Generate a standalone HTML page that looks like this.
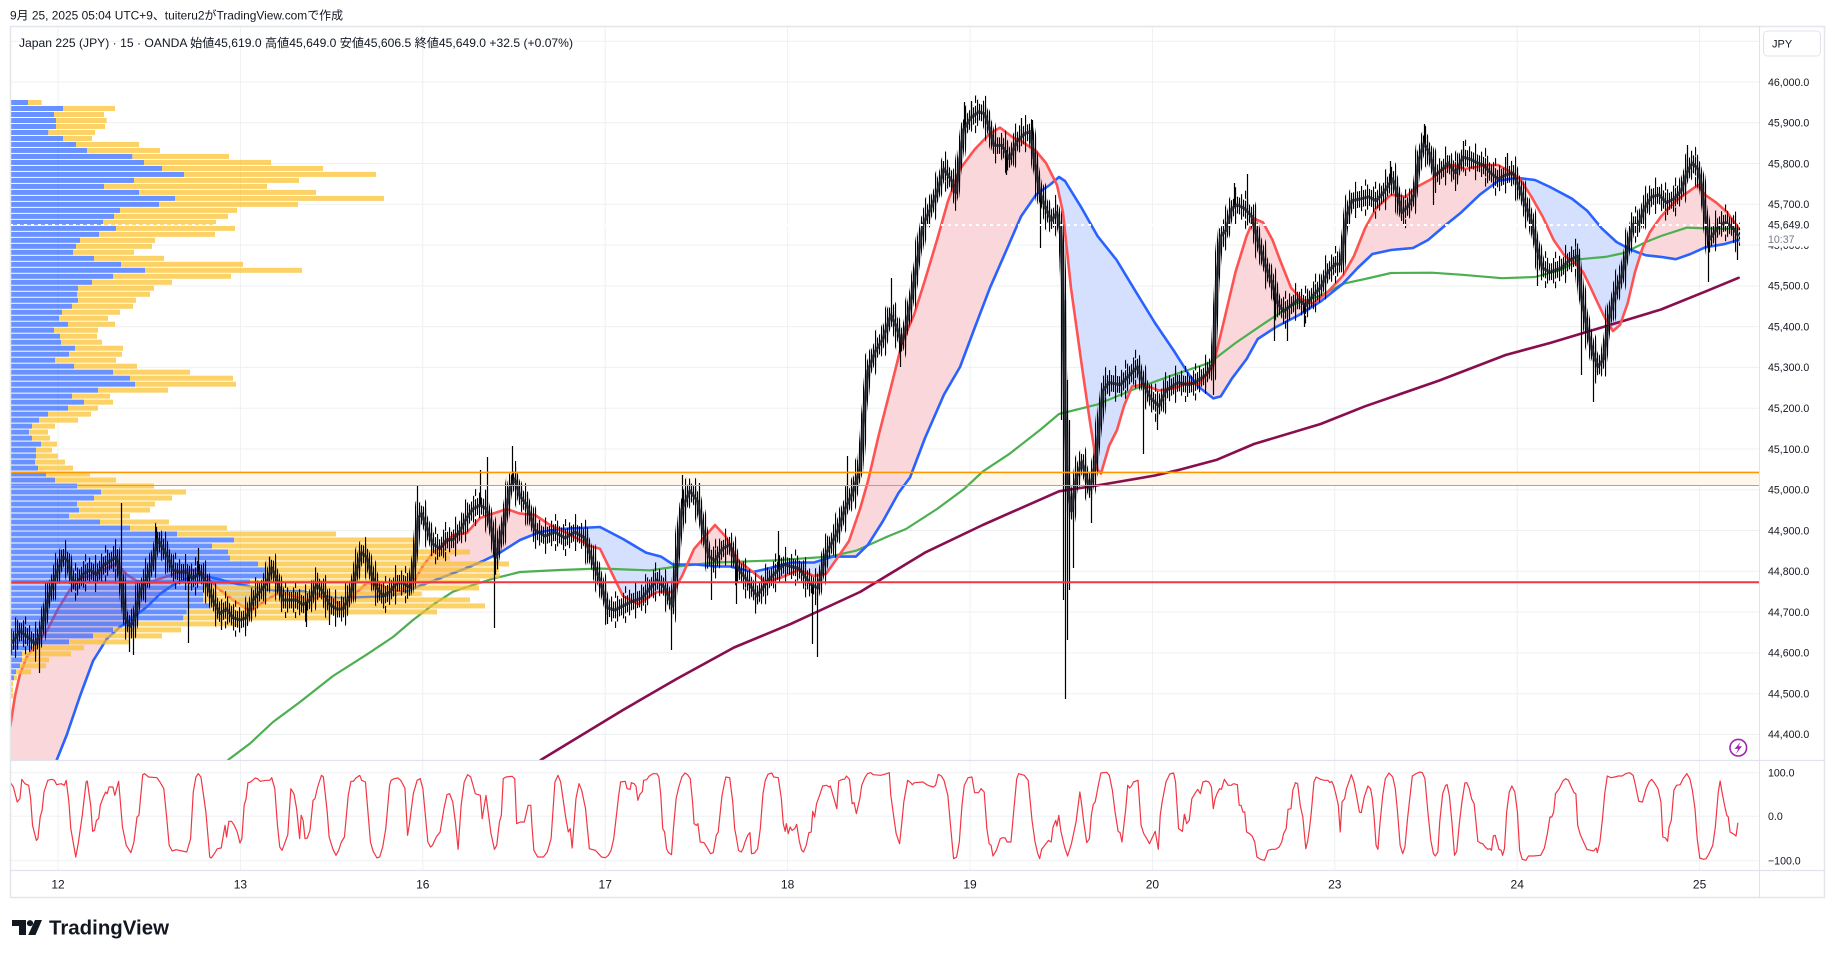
<!DOCTYPE html>
<html><head><meta charset="utf-8">
<style>
html,body{margin:0;padding:0;background:#fff;width:1835px;height:958px;overflow:hidden}
svg{display:block}
text{font-family:"Liberation Sans","Noto Sans CJK JP",sans-serif;fill:#131722}
</style></head>
<body>
<svg width="1835" height="958" viewBox="0 0 1835 958" xmlns="http://www.w3.org/2000/svg" xmlns:xlink="http://www.w3.org/1999/xlink">
<defs>
<clipPath id="pp"><rect x="10" y="27" width="1749" height="733"/></clipPath>
<clipPath id="c600"><rect x="1760" y="246.5" width="62" height="6"/></clipPath>
<clipPath id="o1"><rect x="10" y="761" width="585" height="109"/></clipPath>
<clipPath id="o2"><rect x="595" y="761" width="590" height="109"/></clipPath>
<clipPath id="o3"><rect x="1185" y="761" width="574" height="109"/></clipPath>
<clipPath id="aboveBlue"><polygon points="10,877 56.7,760 66.7,735 80,696 93,661 106.7,639 120,627 133,617.7 146.7,607 160,594 173,585 186.7,578.7 200,575 216.7,578.7 233,583 250,586.5 266.7,589.5 283,591 300,591 316.7,594 333,598 350,598 366.7,597 383,596 400,594 416.7,587 433,581 450,574.4 466.7,568 483,561 500,552.7 520,540 540,532 560,529 580,528 600,527 623,539 646,552.6 661,556.6 673,564.5 696,564.5 715,566.5 730,566.5 753,572 768,568.5 791,562.5 814,562.5 833,556.6 856,556.6 868,544.7 883,521 898.5,493 910,477.5 925,438 944,394.5 960,367 975,327 990,287.7 1005.6,252 1021,216.5 1036,194.8 1049.7,185 1059,177 1065,181 1082,208.6 1097.5,236 1116.6,260 1135.8,291.7 1155,323 1174,351 1189,374.7 1198.5,386.6 1213.3,398.4 1220.7,396.4 1231.8,378.7 1246.6,359 1257.7,339 1276,327 1298.4,315.4 1320.6,301.5 1342.8,283.8 1357.6,268 1372.4,254 1391,250 1413,248 1428,240 1446.4,224.4 1461,212.6 1479.7,194.8 1498,181 1516.7,177.8 1535,180 1550,187 1572,198.7 1587,210.6 1601.8,228.4 1616.5,242 1631.4,250 1646,255.3 1661,256.9 1675.8,259.2 1690.5,254 1705,247.4 1723.8,244.2 1738.6,240 1738.6,0 10,0"/></clipPath>
<clipPath id="aboveRed"><polygon points="10.3,726 15,696 20,674 26.7,657 36.7,644 46.7,631 58,609 70,589.5 80,578.7 93,574.4 106.7,568 116.7,563.5 126.7,574.4 136.7,581 146.7,583 160,578.7 173,574.4 186.7,570 196.7,570 206.7,576.5 216.7,587.4 233,600 250,611 266.7,600 280,591.7 293,596 310,600 323,596 333,600 343,607 353,596 366.7,583 380,585 400,591.7 413,583 423,565.7 433,552.7 443,546 453,535 466.7,533 480,518 493,513.6 506.7,509 520,513.6 535,515 550,525 565,532 580,540 590,546 600,548.7 623,596 638,604 657,592 673,592 682,576 694,549 715,525 726,537 738,560.5 753,572 765,582 780,578 799,570 814,576 826,574 837,558.5 849,541 860,509 868,481 879,434 891,387 902,343 914,315 925,280 937,240 948,201 960,169 975,149 990,133.5 1000,127.6 1013,137.5 1021,141 1036,151 1046,163 1057,185 1063,212.6 1071,288 1082,367 1090,422 1097.5,469.6 1101,473.5 1109,446 1117,430 1124,406 1132,386.5 1143,384.6 1159,390.5 1174,388.5 1189,382.6 1198.5,384.6 1213,366.8 1224.4,319 1235.5,272 1246.6,236 1254,218.5 1263,222.5 1272.5,240 1280,260 1291,287.7 1302,299.6 1313,303.5 1328,291.7 1342.8,275.8 1354,256 1365,228.4 1376,208.6 1391,194.8 1405.7,196.8 1416.8,186.9 1431.6,179 1442.7,169 1453.8,165 1465,169 1476,167 1487,165 1498,165 1509,171 1520,179 1531.5,196.8 1542.6,216.5 1553.7,240 1564.8,256 1576,264 1583,272 1590.7,287.7 1598,303.5 1605.5,319 1613,331 1620,325 1627.6,303.5 1635,272 1642.5,248 1650,232 1661,216.5 1675.8,200.7 1687,192.8 1698,185 1705,194.8 1716.4,202.7 1727.5,212.6 1738.6,228.4 1738.6,0 10.3,0"/></clipPath>
<pattern id="barsA" patternUnits="userSpaceOnUse" x="11" y="0" width="2" height="4"><rect x="0" y="0" width="1.1" height="4" fill="#000"/></pattern>
<pattern id="barsB" patternUnits="userSpaceOnUse" x="11" y="0" width="6" height="4"><rect x="0" y="0" width="1.1" height="4" fill="#000"/></pattern>
<pattern id="barsC" patternUnits="userSpaceOnUse" x="15" y="0" width="10" height="4"><rect x="0" y="0" width="1.1" height="4" fill="#000"/></pattern>
<polyline id="blk" fill="none" points="10.3,643.7 15,639 20,630.7 25,635 30,639 35,643.7 40,635 43,622 48,600 53,583 58,570 63,557 68,561 71.7,578.7 76.7,583 83,574.4 90,570 96.7,574.4 103,565.7 110,561 116.7,557 121.7,583 125,617.7 130,626.4 135,617.7 140,591.7 146.7,578.7 153,561 158,539.7 163,548.4 168,557 173,570 180,572 186.7,572 193,578.7 200,572 206.7,583 213,600 220,613.4 226.7,609 233,617.7 240,620 246.7,617.7 253,600 260,591.7 266.7,583 271.7,567.8 276.7,578.7 283,600 290,600 296.7,600 303,604.7 310,600 316.7,585 323,591.7 330,604.7 336.7,609 343,609 350,596 356.7,570 361.7,552.7 366.7,557 371.7,574.4 376.7,587.4 383,596 390,591.7 396.7,583 403,583 410,587.4 415,557 418.3,518 421.7,513.6 426.7,526.7 433,544 440,548.4 446.7,539.7 453,539.7 460,531 466.7,518 473,509 480,505 486.7,509 493,535 496.7,557 500,539.7 505,518 510,487.6 515,479 520,496 527,505 535,530 545,536 555,532 565,538 575,532 585,538 593,562 600,580 607.7,608 615,610 630.6,602 642,598 657,580 665,588 672.7,606 676.5,564.5 682,509 690,491 697.6,501 703,529 709,556.6 715,560.5 722.5,548.7 730,544.7 738,568.5 747,580 757,596 768.4,580 783.7,564.5 799,568.5 810.5,584 818,588 825.8,554.6 837,533 845,509 852.6,493 860,469.6 864,414 868,370.7 875.5,351 883,339 891,315 896.6,327 902,343 906,327 912,295.6 917.6,260 923,224.4 929,212.6 937,192.8 944,169 952,181 956,192.8 963.6,129.5 971,117.7 979,111.7 984.6,113.7 990,129.5 994,145.4 1002,145.4 1009.5,159 1017,141.4 1025,133.5 1030.5,131.5 1034,157 1040,192.8 1046,208.6 1051.6,220.5 1057,212.6 1061,232 1063,287.7 1065,406 1067.7,485.4 1071.5,511 1076.5,477.5 1082,461.7 1090,489.4 1095.6,461.7 1099.4,426 1103,390.5 1109,382.6 1120.5,384.6 1130,374.7 1137.7,366.8 1143,382.6 1151,398.4 1159,406 1166,390.5 1178,382.6 1189,384.6 1194.8,382.6 1206,374.7 1213.3,362.8 1217,279.8 1220.7,236.3 1226,230.4 1231.8,208.6 1237.3,204.7 1244.7,208.6 1252,216.5 1257.7,240 1265,264 1272.5,283.8 1278,303.5 1283.6,311.4 1291,305.5 1298.4,299.6 1305.8,305.5 1313,295.6 1320.6,287.7 1328,271.9 1335.4,264 1341,264 1346.5,216.5 1352,200.7 1361.3,198.7 1368.7,196.8 1376,200.7 1383.5,192.8 1392.7,179 1398.3,196.8 1402,212.6 1409.4,204.7 1415,192.8 1418.6,161 1424,143.4 1429.7,153.3 1435.3,175 1442.7,169 1448.2,163 1455.6,173 1463,157.2 1470.4,159.2 1477.8,163 1483.4,165 1490.8,173 1498,179 1505.6,175 1513,173 1518.5,185 1524,200.7 1531.5,220.5 1537,248 1542.6,268 1550,272 1561,268 1570,260 1577.7,256 1581.4,295.6 1587,327 1592.5,351 1598,366.8 1603.6,359 1609,319 1614.7,295.6 1622,275.8 1627.6,248 1633,224.4 1638.6,224.4 1644.3,208.6 1651.7,196.8 1659,194.8 1666.5,202.7 1674,198.7 1681.3,190.8 1686.8,173 1692.4,163 1698,169 1701.6,185 1705.3,216.5 1709,240 1714.6,232.3 1720,224.4 1725.7,222.5 1731.2,226.4 1735,230.4 1738.6,236.3"/>
</defs>

<rect x="0" y="0" width="1835" height="958" fill="#fff"/>

<!-- grid -->
<g stroke="#eef0f3" stroke-width="1">
<line x1="10" y1="41.2" x2="1759" y2="41.2"/><line x1="10" y1="82" x2="1759" y2="82"/><line x1="10" y1="122.8" x2="1759" y2="122.8"/><line x1="10" y1="163.5" x2="1759" y2="163.5"/><line x1="10" y1="204.3" x2="1759" y2="204.3"/><line x1="10" y1="245.1" x2="1759" y2="245.1"/><line x1="10" y1="285.9" x2="1759" y2="285.9"/><line x1="10" y1="326.6" x2="1759" y2="326.6"/><line x1="10" y1="367.4" x2="1759" y2="367.4"/><line x1="10" y1="408.2" x2="1759" y2="408.2"/><line x1="10" y1="449" x2="1759" y2="449"/><line x1="10" y1="489.8" x2="1759" y2="489.8"/><line x1="10" y1="530.5" x2="1759" y2="530.5"/><line x1="10" y1="571.3" x2="1759" y2="571.3"/><line x1="10" y1="612.1" x2="1759" y2="612.1"/><line x1="10" y1="652.9" x2="1759" y2="652.9"/><line x1="10" y1="693.7" x2="1759" y2="693.7"/><line x1="10" y1="734.4" x2="1759" y2="734.4"/>
<line x1="10" y1="772.7" x2="1759" y2="772.7"/><line x1="10" y1="816.3" x2="1759" y2="816.3"/><line x1="10" y1="860.7" x2="1759" y2="860.7"/>
<line x1="58" y1="27" x2="58" y2="870"/><line x1="240.4" y1="27" x2="240.4" y2="870"/><line x1="422.8" y1="27" x2="422.8" y2="870"/><line x1="605.2" y1="27" x2="605.2" y2="870"/><line x1="787.6" y1="27" x2="787.6" y2="870"/><line x1="970" y1="27" x2="970" y2="870"/><line x1="1152.4" y1="27" x2="1152.4" y2="870"/><line x1="1334.8" y1="27" x2="1334.8" y2="870"/><line x1="1517.2" y1="27" x2="1517.2" y2="870"/><line x1="1699.6" y1="27" x2="1699.6" y2="870"/>
</g>
<rect x="10" y="472.4" width="1749" height="13.1" fill="#fff6ec"/>

<!-- fills between red and blue -->
<g clip-path="url(#pp)">
<g clip-path="url(#aboveBlue)">
<polygon fill="#fad7da" points="10.3,726 15,696 20,674 26.7,657 36.7,644 46.7,631 58,609 70,589.5 80,578.7 93,574.4 106.7,568 116.7,563.5 126.7,574.4 136.7,581 146.7,583 160,578.7 173,574.4 186.7,570 196.7,570 206.7,576.5 216.7,587.4 233,600 250,611 266.7,600 280,591.7 293,596 310,600 323,596 333,600 343,607 353,596 366.7,583 380,585 400,591.7 413,583 423,565.7 433,552.7 443,546 453,535 466.7,533 480,518 493,513.6 506.7,509 520,513.6 535,515 550,525 565,532 580,540 590,546 600,548.7 623,596 638,604 657,592 673,592 682,576 694,549 715,525 726,537 738,560.5 753,572 765,582 780,578 799,570 814,576 826,574 837,558.5 849,541 860,509 868,481 879,434 891,387 902,343 914,315 925,280 937,240 948,201 960,169 975,149 990,133.5 1000,127.6 1013,137.5 1021,141 1036,151 1046,163 1057,185 1063,212.6 1071,288 1082,367 1090,422 1097.5,469.6 1101,473.5 1109,446 1117,430 1124,406 1132,386.5 1143,384.6 1159,390.5 1174,388.5 1189,382.6 1198.5,384.6 1213,366.8 1224.4,319 1235.5,272 1246.6,236 1254,218.5 1263,222.5 1272.5,240 1280,260 1291,287.7 1302,299.6 1313,303.5 1328,291.7 1342.8,275.8 1354,256 1365,228.4 1376,208.6 1391,194.8 1405.7,196.8 1416.8,186.9 1431.6,179 1442.7,169 1453.8,165 1465,169 1476,167 1487,165 1498,165 1509,171 1520,179 1531.5,196.8 1542.6,216.5 1553.7,240 1564.8,256 1576,264 1583,272 1590.7,287.7 1598,303.5 1605.5,319 1613,331 1620,325 1627.6,303.5 1635,272 1642.5,248 1650,232 1661,216.5 1675.8,200.7 1687,192.8 1698,185 1705,194.8 1716.4,202.7 1727.5,212.6 1738.6,228.4 1738.6,900 10.3,900"/>
</g>
<g clip-path="url(#aboveRed)">
<polygon fill="#d4e0fe" points="10,877 56.7,760 66.7,735 80,696 93,661 106.7,639 120,627 133,617.7 146.7,607 160,594 173,585 186.7,578.7 200,575 216.7,578.7 233,583 250,586.5 266.7,589.5 283,591 300,591 316.7,594 333,598 350,598 366.7,597 383,596 400,594 416.7,587 433,581 450,574.4 466.7,568 483,561 500,552.7 520,540 540,532 560,529 580,528 600,527 623,539 646,552.6 661,556.6 673,564.5 696,564.5 715,566.5 730,566.5 753,572 768,568.5 791,562.5 814,562.5 833,556.6 856,556.6 868,544.7 883,521 898.5,493 910,477.5 925,438 944,394.5 960,367 975,327 990,287.7 1005.6,252 1021,216.5 1036,194.8 1049.7,185 1059,177 1065,181 1082,208.6 1097.5,236 1116.6,260 1135.8,291.7 1155,323 1174,351 1189,374.7 1198.5,386.6 1213.3,398.4 1220.7,396.4 1231.8,378.7 1246.6,359 1257.7,339 1276,327 1298.4,315.4 1320.6,301.5 1342.8,283.8 1357.6,268 1372.4,254 1391,250 1413,248 1428,240 1446.4,224.4 1461,212.6 1479.7,194.8 1498,181 1516.7,177.8 1535,180 1550,187 1572,198.7 1587,210.6 1601.8,228.4 1616.5,242 1631.4,250 1646,255.3 1661,256.9 1675.8,259.2 1690.5,254 1705,247.4 1723.8,244.2 1738.6,240 1738.6,900 10,900"/>
</g>

<!-- moving averages -->
<g fill="none" stroke-linejoin="round" stroke-linecap="round">
<polyline stroke="#880e4f" stroke-width="2.6" points="540.7,760 623,710 676.5,679 734,647.5 791,623.8 860,592 925,552.6 982.7,525 1059,491.3 1097.5,485.4 1155,475.5 1180,469.6 1217,459.7 1254,444 1320.6,424 1365,406.3 1439,380.6 1505.6,355 1550,343 1609,325.3 1661,309.5 1705,291.7 1738.6,277.8"/>
<polyline stroke="#4caf50" stroke-width="2.2" points="228,760 250,743.5 273,722 300,702 333,676 366.7,654.6 393,637 413,620 433,604.7 453,591.7 473,585 493,578.7 520,572 560,570 600,568.5 650,570.4 676.5,566.5 715,562.5 772,560.5 829.6,556.6 856,550.7 887,536.8 906,529 937,509 963.6,489.4 982.7,471.6 1009.5,453.8 1040,430 1059,414 1097.5,404.4 1135.8,388.5 1174,374.7 1209.6,362.8 1235.5,343 1261.4,325.3 1291,305.5 1320.6,295.6 1342.8,283.8 1365,279 1391,273 1431.6,272.7 1461,274.7 1502,278.2 1535,277 1561,270 1579.6,259.2 1605.5,256.9 1624,253 1646,242 1661,236 1687,227.6 1705,228.4 1738.6,229"/>
<polyline stroke="#2962ff" stroke-width="2.6" points="10,877 56.7,760 66.7,735 80,696 93,661 106.7,639 120,627 133,617.7 146.7,607 160,594 173,585 186.7,578.7 200,575 216.7,578.7 233,583 250,586.5 266.7,589.5 283,591 300,591 316.7,594 333,598 350,598 366.7,597 383,596 400,594 416.7,587 433,581 450,574.4 466.7,568 483,561 500,552.7 520,540 540,532 560,529 580,528 600,527 623,539 646,552.6 661,556.6 673,564.5 696,564.5 715,566.5 730,566.5 753,572 768,568.5 791,562.5 814,562.5 833,556.6 856,556.6 868,544.7 883,521 898.5,493 910,477.5 925,438 944,394.5 960,367 975,327 990,287.7 1005.6,252 1021,216.5 1036,194.8 1049.7,185 1059,177 1065,181 1082,208.6 1097.5,236 1116.6,260 1135.8,291.7 1155,323 1174,351 1189,374.7 1198.5,386.6 1213.3,398.4 1220.7,396.4 1231.8,378.7 1246.6,359 1257.7,339 1276,327 1298.4,315.4 1320.6,301.5 1342.8,283.8 1357.6,268 1372.4,254 1391,250 1413,248 1428,240 1446.4,224.4 1461,212.6 1479.7,194.8 1498,181 1516.7,177.8 1535,180 1550,187 1572,198.7 1587,210.6 1601.8,228.4 1616.5,242 1631.4,250 1646,255.3 1661,256.9 1675.8,259.2 1690.5,254 1705,247.4 1723.8,244.2 1738.6,240"/>
<polyline stroke="#ff5252" stroke-width="2.6" points="10.3,726 15,696 20,674 26.7,657 36.7,644 46.7,631 58,609 70,589.5 80,578.7 93,574.4 106.7,568 116.7,563.5 126.7,574.4 136.7,581 146.7,583 160,578.7 173,574.4 186.7,570 196.7,570 206.7,576.5 216.7,587.4 233,600 250,611 266.7,600 280,591.7 293,596 310,600 323,596 333,600 343,607 353,596 366.7,583 380,585 400,591.7 413,583 423,565.7 433,552.7 443,546 453,535 466.7,533 480,518 493,513.6 506.7,509 520,513.6 535,515 550,525 565,532 580,540 590,546 600,548.7 623,596 638,604 657,592 673,592 682,576 694,549 715,525 726,537 738,560.5 753,572 765,582 780,578 799,570 814,576 826,574 837,558.5 849,541 860,509 868,481 879,434 891,387 902,343 914,315 925,280 937,240 948,201 960,169 975,149 990,133.5 1000,127.6 1013,137.5 1021,141 1036,151 1046,163 1057,185 1063,212.6 1071,288 1082,367 1090,422 1097.5,469.6 1101,473.5 1109,446 1117,430 1124,406 1132,386.5 1143,384.6 1159,390.5 1174,388.5 1189,382.6 1198.5,384.6 1213,366.8 1224.4,319 1235.5,272 1246.6,236 1254,218.5 1263,222.5 1272.5,240 1280,260 1291,287.7 1302,299.6 1313,303.5 1328,291.7 1342.8,275.8 1354,256 1365,228.4 1376,208.6 1391,194.8 1405.7,196.8 1416.8,186.9 1431.6,179 1442.7,169 1453.8,165 1465,169 1476,167 1487,165 1498,165 1509,171 1520,179 1531.5,196.8 1542.6,216.5 1553.7,240 1564.8,256 1576,264 1583,272 1590.7,287.7 1598,303.5 1605.5,319 1613,331 1620,325 1627.6,303.5 1635,272 1642.5,248 1650,232 1661,216.5 1675.8,200.7 1687,192.8 1698,185 1705,194.8 1716.4,202.7 1727.5,212.6 1738.6,228.4"/>
</g>
</g>

<!-- volume profile -->
<g transform="translate(0,100) scale(0.33333,5.993)">
<g fill="rgba(41,98,255,0.7)">
<rect x="31.5" y="0" width="52.5" height="0.834"/><rect x="31.5" y="1" width="157.5" height="0.834"/><rect x="31.5" y="2" width="130.5" height="0.834"/><rect x="31.5" y="3" width="136.5" height="0.834"/><rect x="31.5" y="4" width="136.5" height="0.834"/><rect x="31.5" y="5" width="113.5" height="0.834"/><rect x="31.5" y="6" width="157.5" height="0.834"/><rect x="31.5" y="7" width="196.5" height="0.834"/><rect x="31.5" y="8" width="229.5" height="0.834"/><rect x="31.5" y="9" width="365.5" height="0.834"/>
<rect x="31.5" y="10" width="400.5" height="0.834"/><rect x="31.5" y="11" width="454.5" height="0.834"/><rect x="31.5" y="12" width="520.5" height="0.834"/><rect x="31.5" y="13" width="370.5" height="0.834"/><rect x="31.5" y="14" width="280.5" height="0.834"/><rect x="31.5" y="15" width="385.5" height="0.834"/><rect x="31.5" y="16" width="493.5" height="0.834"/><rect x="31.5" y="17" width="445.5" height="0.834"/><rect x="31.5" y="18" width="328.5" height="0.834"/><rect x="31.5" y="19" width="310.5" height="0.834"/>
<rect x="31.5" y="20" width="277.5" height="0.834"/><rect x="31.5" y="21" width="316.5" height="0.834"/><rect x="31.5" y="22" width="265.5" height="0.834"/><rect x="31.5" y="23" width="208.5" height="0.834"/><rect x="31.5" y="24" width="196.5" height="0.834"/><rect x="31.5" y="25" width="187.5" height="0.834"/><rect x="31.5" y="26" width="250.5" height="0.834"/><rect x="31.5" y="27" width="331.5" height="0.834"/><rect x="31.5" y="28" width="403.5" height="0.834"/><rect x="31.5" y="29" width="307.5" height="0.834"/>
<rect x="31.5" y="30" width="244.5" height="0.834"/><rect x="31.5" y="31" width="202.5" height="0.834"/><rect x="31.5" y="32" width="199.5" height="0.834"/><rect x="31.5" y="33" width="202.5" height="0.834"/><rect x="31.5" y="34" width="184.5" height="0.834"/><rect x="31.5" y="35" width="154.5" height="0.834"/><rect x="31.5" y="36" width="145.5" height="0.834"/><rect x="31.5" y="37" width="172.5" height="0.834"/><rect x="31.5" y="38" width="130.5" height="0.834"/><rect x="31.5" y="39" width="148.5" height="0.834"/>
<rect x="31.5" y="40" width="151.5" height="0.834"/><rect x="31.5" y="41" width="193.5" height="0.834"/><rect x="31.5" y="42" width="175.5" height="0.834"/><rect x="31.5" y="43" width="133.5" height="0.834"/><rect x="31.5" y="44" width="190.5" height="0.834"/><rect x="31.5" y="45" width="307.5" height="0.834"/><rect x="31.5" y="46" width="358.5" height="0.834"/><rect x="31.5" y="47" width="373.5" height="0.834"/><rect x="31.5" y="48" width="262.5" height="0.834"/><rect x="31.5" y="49" width="184.5" height="0.834"/>
<rect x="31.5" y="50" width="220.5" height="0.834"/><rect x="31.5" y="51" width="172.5" height="0.834"/><rect x="31.5" y="52" width="112.5" height="0.834"/><rect x="31.5" y="53" width="85.5" height="0.834"/><rect x="31.5" y="54" width="64.5" height="0.834"/><rect x="31.5" y="55" width="55.5" height="0.834"/><rect x="31.5" y="56" width="64.5" height="0.834"/><rect x="31.5" y="57" width="91.5" height="0.834"/><rect x="31.5" y="58" width="76.5" height="0.834"/><rect x="31.5" y="59" width="76.5" height="0.834"/>
<rect x="31.5" y="60" width="73.5" height="0.834"/><rect x="31.5" y="61" width="82.5" height="0.834"/><rect x="31.5" y="62" width="106.5" height="0.834"/><rect x="31.5" y="63" width="133.5" height="0.834"/><rect x="31.5" y="64" width="199.5" height="0.834"/><rect x="31.5" y="65" width="271.5" height="0.834"/><rect x="31.5" y="66" width="250.5" height="0.834"/><rect x="31.5" y="67" width="199.5" height="0.834"/><rect x="31.5" y="68" width="205.5" height="0.834"/><rect x="31.5" y="69" width="175.5" height="0.834"/>
<rect x="31.5" y="70" width="268.5" height="0.834"/><rect x="31.5" y="71" width="358.5" height="0.834"/><rect x="31.5" y="72" width="499.5" height="0.834"/><rect x="31.5" y="73" width="670.5" height="0.834"/><rect x="31.5" y="74" width="604.5" height="0.834"/><rect x="31.5" y="75" width="652.5" height="0.834"/><rect x="31.5" y="76" width="658.5" height="0.834"/><rect x="31.5" y="77" width="742.5" height="0.834"/><rect x="31.5" y="78" width="766.5" height="0.834"/><rect x="31.5" y="79" width="766.5" height="0.834"/>
<rect x="31.5" y="80" width="718.5" height="0.834"/><rect x="31.5" y="81" width="578.5" height="0.834"/><rect x="31.5" y="82" width="578.5" height="0.834"/><rect x="31.5" y="83" width="578.5" height="0.834"/><rect x="31.5" y="84" width="598.5" height="0.834"/><rect x="31.5" y="85" width="528.5" height="0.834"/><rect x="31.5" y="86" width="518.5" height="0.834"/><rect x="31.5" y="87" width="378.5" height="0.834"/><rect x="31.5" y="88" width="307.5" height="0.834"/><rect x="31.5" y="89" width="247.5" height="0.834"/>
<rect x="31.5" y="90" width="175.5" height="0.834"/><rect x="31.5" y="91" width="63.5" height="0.834"/><rect x="31.5" y="92" width="34.5" height="0.834"/><rect x="31.5" y="93" width="34.5" height="0.834"/><rect x="31.5" y="94" width="28.5" height="0.834"/><rect x="31.5" y="95" width="16.5" height="0.834"/><rect x="31.5" y="96" width="10.5" height="0.834"/><rect x="31.5" y="97" width="1.5" height="0.834"/><rect x="31.5" y="98" width="1.5" height="0.834"/><rect x="31.5" y="99" width="1.5" height="0.834"/>
</g>
<g fill="rgba(251,192,45,0.72)">
<rect x="84" y="0" width="41" height="0.834"/><rect x="189" y="1" width="156" height="0.834"/><rect x="162" y="2" width="150" height="0.834"/><rect x="168" y="3" width="152" height="0.834"/><rect x="168" y="4" width="147" height="0.834"/><rect x="145" y="5" width="140" height="0.834"/><rect x="189" y="6" width="87" height="0.834"/><rect x="228" y="7" width="189" height="0.834"/><rect x="261" y="8" width="219" height="0.834"/><rect x="397" y="9" width="290" height="0.834"/>
<rect x="432" y="10" width="381" height="0.834"/><rect x="486" y="11" width="483" height="0.834"/><rect x="552" y="12" width="576" height="0.834"/><rect x="402" y="13" width="495" height="0.834"/><rect x="312" y="14" width="489" height="0.834"/><rect x="417" y="15" width="531" height="0.834"/><rect x="525" y="16" width="627" height="0.834"/><rect x="477" y="17" width="417" height="0.834"/><rect x="360" y="18" width="351" height="0.834"/><rect x="342" y="19" width="342" height="0.834"/>
<rect x="309" y="20" width="339" height="0.834"/><rect x="348" y="21" width="357" height="0.834"/><rect x="297" y="22" width="348" height="0.834"/><rect x="240" y="23" width="225" height="0.834"/><rect x="228" y="24" width="228" height="0.834"/><rect x="219" y="25" width="183" height="0.834"/><rect x="282" y="26" width="210" height="0.834"/><rect x="363" y="27" width="366" height="0.834"/><rect x="435" y="28" width="471" height="0.834"/><rect x="339" y="29" width="354" height="0.834"/>
<rect x="276" y="30" width="240" height="0.834"/><rect x="234" y="31" width="228" height="0.834"/><rect x="231" y="32" width="219" height="0.834"/><rect x="234" y="33" width="174" height="0.834"/><rect x="216" y="34" width="183" height="0.834"/><rect x="186" y="35" width="174" height="0.834"/><rect x="177" y="36" width="147" height="0.834"/><rect x="204" y="37" width="141" height="0.834"/><rect x="162" y="38" width="132" height="0.834"/><rect x="180" y="39" width="111" height="0.834"/>
<rect x="183" y="40" width="123" height="0.834"/><rect x="225" y="41" width="144" height="0.834"/><rect x="207" y="42" width="159" height="0.834"/><rect x="165" y="43" width="183" height="0.834"/><rect x="222" y="44" width="189" height="0.834"/><rect x="339" y="45" width="231" height="0.834"/><rect x="390" y="46" width="309" height="0.834"/><rect x="405" y="47" width="303" height="0.834"/><rect x="294" y="48" width="210" height="0.834"/><rect x="216" y="49" width="114" height="0.834"/>
<rect x="252" y="50" width="87" height="0.834"/><rect x="204" y="51" width="90" height="0.834"/><rect x="144" y="52" width="129" height="0.834"/><rect x="117" y="53" width="117" height="0.834"/><rect x="96" y="54" width="69" height="0.834"/><rect x="87" y="55" width="57" height="0.834"/><rect x="96" y="56" width="54" height="0.834"/><rect x="123" y="57" width="48" height="0.834"/><rect x="108" y="58" width="48" height="0.834"/><rect x="108" y="59" width="66" height="0.834"/>
<rect x="105" y="60" width="90" height="0.834"/><rect x="114" y="61" width="105" height="0.834"/><rect x="138" y="62" width="132" height="0.834"/><rect x="165" y="63" width="183" height="0.834"/><rect x="231" y="64" width="231" height="0.834"/><rect x="303" y="65" width="255" height="0.834"/><rect x="282" y="66" width="234" height="0.834"/><rect x="231" y="67" width="234" height="0.834"/><rect x="237" y="68" width="213" height="0.834"/><rect x="207" y="69" width="183" height="0.834"/>
<rect x="300" y="70" width="207" height="0.834"/><rect x="390" y="71" width="291" height="0.834"/><rect x="531" y="72" width="477" height="0.834"/><rect x="702" y="73" width="548" height="0.834"/><rect x="636" y="74" width="614" height="0.834"/><rect x="684" y="75" width="726" height="0.834"/><rect x="690" y="76" width="660" height="0.834"/><rect x="774" y="77" width="753" height="0.834"/><rect x="798" y="78" width="699" height="0.834"/><rect x="798" y="79" width="702" height="0.834"/>
<rect x="750" y="80" width="690" height="0.834"/><rect x="610" y="81" width="827" height="0.834"/><rect x="610" y="82" width="655" height="0.834"/><rect x="610" y="83" width="800" height="0.834"/><rect x="630" y="84" width="825" height="0.834"/><rect x="560" y="85" width="751" height="0.834"/><rect x="550" y="86" width="440" height="0.834"/><rect x="410" y="87" width="310" height="0.834"/><rect x="339" y="88" width="204" height="0.834"/><rect x="279" y="89" width="207" height="0.834"/>
<rect x="207" y="90" width="183" height="0.834"/><rect x="95" y="91" width="157" height="0.834"/><rect x="66" y="92" width="147" height="0.834"/><rect x="66" y="93" width="81" height="0.834"/><rect x="60" y="94" width="78" height="0.834"/><rect x="48" y="95" width="45" height="0.834"/><rect x="42" y="96" width="9" height="0.834"/><rect x="33" y="97" width="6" height="0.834"/><rect x="33" y="98" width="6" height="0.834"/><rect x="33" y="99" width="6" height="0.834"/>
</g>
</g>

<!-- candles: vertically stacked patterned strokes -->
<g clip-path="url(#pp)" fill="none" stroke-linejoin="round" stroke-linecap="butt">
<use xlink:href="#blk" href="#blk" transform="translate(0,-15)" stroke="url(#barsC)" stroke-width="6"/>
<use xlink:href="#blk" href="#blk" transform="translate(0,15)" stroke="url(#barsC)" stroke-width="6"/>
<use xlink:href="#blk" href="#blk" transform="translate(0,-10)" stroke="url(#barsB)" stroke-width="5"/>
<use xlink:href="#blk" href="#blk" transform="translate(0,10)" stroke="url(#barsB)" stroke-width="5"/>
<use xlink:href="#blk" href="#blk" transform="translate(0,-5.5)" stroke="url(#barsA)" stroke-width="5"/>
<use xlink:href="#blk" href="#blk" transform="translate(0,-1)" stroke="url(#barsA)" stroke-width="5"/>
<use xlink:href="#blk" href="#blk" transform="translate(0,3.5)" stroke="url(#barsA)" stroke-width="5"/>
<use xlink:href="#blk" href="#blk" transform="translate(0,7)" stroke="url(#barsA)" stroke-width="3"/>
<path stroke="#000" stroke-width="1.2" d="M39.5,636V673M121.5,503V580M129.5,625V652M133.5,620V655M156.5,527V548M188.5,574V643M198.5,548V575M221.5,612V630M269.5,557V575M306.5,602V627M329.5,602V625M359.5,546V561M417.5,486V530M480.5,470V505M487.5,457V510M494.5,540V628M512.5,446V484M607.5,607V624M671.5,602V650M682.5,475V509M699.5,483V505M711.5,558V600M736.5,562V604M778.5,531V570M812.5,585V644M817.5,588V657M847.5,456V503M891.5,278V315M900.5,337V367M964.5,102V129M971.5,101V118M1006.5,150V175M1021.5,118V137M1032.5,120V140M1040.5,193V248M1061.5,225V420M1063.5,240V600M1065.5,300V699M1067.5,380V640M1069.5,420V590M1073.5,500V568M1091.5,485V523M1143.5,383V454M1157.5,404V430M1213.5,365V395M1234.5,183V207M1247.5,174V210M1274.5,288V341M1287.5,308V341M1304.5,303V327M1390.5,161V183M1424.5,124V144M1433.5,168V205M1463.5,141V157M1507.5,153V175M1537.5,248V286M1581.5,290V375M1593.5,352V402M1687.5,145V172M1708.5,235V282M1737.5,234V260"/>
<use xlink:href="#blk" href="#blk" stroke="#1e222d" stroke-opacity="0.8" stroke-width="3"/>
</g>

<line x1="10" y1="472.4" x2="1759" y2="472.4" stroke="#ff9800" stroke-width="1.6"/>
<line x1="10" y1="485.5" x2="1759" y2="485.5" stroke="#ff9800" stroke-width="1"/>
<line x1="10" y1="582.3" x2="1759" y2="582.3" stroke="#f23645" stroke-width="2"/>
<line x1="10" y1="225" x2="1759" y2="225" stroke="#fff" stroke-width="2" stroke-dasharray="3,4"/>

<!-- oscillator -->
<g fill="none" stroke="#f23645" stroke-width="1.2" stroke-linejoin="round">
<g clip-path="url(#o1)"><g transform="translate(0,762) scale(0.3827,0.33333)"><polyline vector-effect="non-scaling-stroke" points="26,60,35,75,45,120,52,110,57,52,65,65,75,70,80,110,85,190,95,235,99,230,105,165,110,145,115,90,125,55,135,52,142,55,148,68,160,65,168,70,173,55,180,120,185,200,198,285,205,240,215,160,225,60,228,57,237,130,242,208,247,205,252,175,258,170,262,130,270,105,276,90,280,95,285,75,295,75,300,100,310,58,320,195,330,250,342,272,350,240,358,165,363,160,373,38,378,35,388,45,410,47,418,60,428,80,435,160,442,250,450,267,460,263,488,270,498,230,505,90,512,45,518,35,525,45,538,150,548,285,552,288,560,275,568,260,578,258,588,190,592,225,598,178,605,178,612,190,620,210,627,243,632,230,638,130,643,110,648,62,655,60,660,55,667,48,673,50,680,58,695,55,705,55,710,47,718,80,725,190,731,255,737,265,742,250,752,218,760,80,768,95,775,140,783,230,787,160,792,175,797,230,803,228,810,205,818,115,823,110,830,75,840,40,845,45,855,150,860,225,870,262,878,280,885,265,892,240,900,225,910,100,917,58,923,58,930,48,940,40,945,55,955,60,960,130,968,240,975,268,985,288,992,285,1000,255,1008,200,1018,70,1022,55,1030,50,1040,48,1047,55,1058,78,1065,220,1070,185,1080,95,1090,55,1098,50,1105,80,1118,240,1125,255,1130,250,1140,225,1150,210,1160,140,1168,98,1175,95,1183,120,1190,180,1197,262,1205,130,1213,60,1222,38,1230,45,1242,95,1250,98,1255,100,1260,170,1270,100,1275,145,1283,215,1292,262,1298,250,1305,180,1310,160,1315,50,1322,45,1338,43,1345,50,1350,185,1360,180,1370,180,1380,130,1387,130,1390,190,1395,265,1405,285,1420,285,1430,270,1440,230,1450,60,1458,40,1465,60,1478,165,1485,210,1490,200,1495,258,1505,110,1513,65,1520,85,1530,140,1540,260,1555,265,1568,280"/></g></g>
<g clip-path="url(#o2)"><g transform="translate(590,762) scale(0.3827,0.33333)"><polyline vector-effect="non-scaling-stroke" points="0,262,12,263,20,272,30,285,40,287,48,280,55,265,62,230,70,150,75,100,80,60,92,58,97,80,105,82,108,62,115,65,120,72,125,115,130,98,137,88,140,55,148,53,155,42,165,35,175,35,180,45,185,100,190,200,195,210,200,260,205,272,213,278,218,200,225,110,232,75,240,45,248,33,255,38,262,50,268,120,272,185,278,190,282,185,288,240,298,242,305,255,315,275,322,272,330,220,335,210,345,100,352,60,355,45,365,47,373,120,378,200,383,230,388,265,395,270,400,260,405,240,412,220,418,212,422,275,430,273,438,260,445,200,452,95,458,55,465,37,475,33,480,45,492,47,500,110,505,185,510,208,513,185,518,215,523,195,528,205,535,200,540,187,547,238,553,265,558,270,565,250,572,212,578,210,582,148,587,165,592,125,600,100,608,72,618,70,625,75,628,72,635,100,645,140,650,57,660,52,665,52,670,42,678,52,685,125,690,122,696,155,705,110,710,70,718,48,725,35,733,32,740,38,760,40,775,35,782,32,786,100,795,175,800,215,809,245,815,180,820,120,830,55,838,62,842,68,848,62,870,60,880,68,888,72,897,75,903,70,910,37,918,42,925,55,935,100,942,190,950,290,958,285,965,240,972,130,978,70,988,47,998,45,1005,92,1015,92,1022,80,1030,90,1037,200,1043,245,1048,250,1053,282,1062,265,1072,230,1078,227,1085,228,1090,240,1100,240,1107,150,1115,50,1120,35,1135,40,1145,55,1155,175,1163,240,1170,275,1175,290,1180,262,1188,250,1198,235,1205,240,1210,195,1217,175,1220,192,1225,160,1230,205,1240,255,1248,282,1258,245,1270,180,1280,90,1285,130,1290,180,1298,242,1305,230,1310,160,1315,127,1320,120,1330,60,1335,33,1350,31,1357,40,1365,85,1372,150,1380,208,1385,212,1390,240,1400,140,1405,70,1410,78,1415,72,1420,60,1432,55,1440,190,1447,215,1455,230,1462,245,1470,225,1477,208,1485,262,1490,160,1495,120,1505,60,1515,36,1525,33,1530,60,1538,200,1548,208,1553,157,1558,185,1565,140"/></g></g>
<g clip-path="url(#o3)"><g transform="translate(1180,762) scale(0.36996,0.33333)"><polyline vector-effect="non-scaling-stroke" points="0,200,8,205,12,155,18,185,25,175,32,110,40,95,48,82,55,95,62,60,70,57,78,60,85,75,90,140,95,110,100,95,107,80,112,82,120,52,130,70,138,70,145,65,155,68,160,130,165,130,170,150,175,150,180,210,188,215,195,222,202,240,208,285,218,292,228,295,232,285,238,265,248,262,258,262,268,255,275,240,280,215,287,200,292,142,300,140,305,85,312,62,318,65,325,130,332,165,340,260,345,238,350,200,355,150,362,60,368,45,380,52,390,55,400,55,405,62,410,58,415,70,422,100,428,130,433,210,438,120,445,110,450,80,455,65,463,38,470,60,477,100,485,150,490,152,498,105,508,72,515,80,520,110,525,170,530,250,535,262,540,190,548,100,555,50,565,33,575,45,582,80,588,150,595,250,602,275,608,255,615,170,622,100,628,42,638,35,648,30,655,32,662,50,670,150,678,235,685,275,690,282,697,270,702,180,710,95,718,70,722,68,728,100,735,180,742,280,748,268,755,185,762,120,770,63,775,62,782,80,788,110,795,125,800,180,805,238,812,243,818,245,825,255,832,262,838,260,842,265,847,222,852,220,858,245,862,262,868,265,872,280,877,260,883,150,890,90,897,72,905,90,912,150,918,265,925,292,935,295,942,282,955,282,975,280,985,258,993,215,1000,165,1005,165,1010,150,1015,95,1025,80,1035,57,1042,50,1050,55,1058,75,1065,92,1070,95,1075,190,1082,218,1090,238,1100,262,1110,265,1118,267,1125,258,1128,272,1135,240,1142,170,1148,95,1155,42,1165,47,1175,45,1185,42,1195,42,1205,35,1215,32,1225,40,1232,75,1240,118,1250,120,1260,80,1268,60,1275,52,1282,62,1292,80,1300,120,1305,225,1312,228,1318,238,1322,195,1328,175,1335,85,1342,70,1352,68,1360,50,1370,35,1378,50,1385,85,1392,140,1398,230,1405,288,1415,292,1422,290,1430,275,1440,250,1447,195,1455,90,1460,57,1465,90,1472,130,1478,160,1482,165,1487,210,1495,215,1503,222,1508,182"/></g></g>
</g>

<!-- frame & separators -->
<rect x="10.5" y="26.5" width="1814" height="871" fill="none" stroke="#e3e6ea" stroke-width="1.5"/>
<line x1="1759.5" y1="26" x2="1759.5" y2="898" stroke="#e0e3eb" stroke-width="1"/>
<line x1="10" y1="760.5" x2="1825" y2="760.5" stroke="#e0e3eb" stroke-width="1.2"/>
<line x1="10" y1="870.5" x2="1825" y2="870.5" stroke="#e0e3eb" stroke-width="1.2"/>

<!-- header -->
<text x="10" y="19.5" font-size="12" textLength="333" lengthAdjust="spacingAndGlyphs">9月 25, 2025 05:04 UTC+9、tuiteru2がTradingView.comで作成</text>
<text x="19" y="47" font-size="12" textLength="554" lengthAdjust="spacingAndGlyphs">Japan 225 (JPY) · 15 · OANDA  始値45,619.0  高値45,649.0  安値45,606.5  終値45,649.0  +32.5 (+0.07%)</text>

<!-- JPY box -->
<rect x="1763.5" y="31" width="57" height="25" rx="4" fill="#fff" stroke="#e0e3eb"/>
<text x="1772" y="47.5" font-size="11">JPY</text>

<!-- price axis -->
<g font-size="10.6">
<text x="1768" y="85.8">46,000.0</text>
<text x="1768" y="126.6">45,900.0</text>
<text x="1768" y="167.3">45,800.0</text>
<text x="1768" y="208.1">45,700.0</text>
<text x="1768" y="248.9" clip-path="url(#c600)">45,600.0</text>
<text x="1768" y="228.6">45,649.0</text>
<text x="1768" y="243" style="fill:#787b86">10:37</text>
<text x="1768" y="289.7">45,500.0</text>
<text x="1768" y="330.5">45,400.0</text>
<text x="1768" y="371.2">45,300.0</text>
<text x="1768" y="412">45,200.0</text>
<text x="1768" y="452.8">45,100.0</text>
<text x="1768" y="493.6">45,000.0</text>
<text x="1768" y="534.4">44,900.0</text>
<text x="1768" y="575.1">44,800.0</text>
<text x="1768" y="615.9">44,700.0</text>
<text x="1768" y="656.7">44,600.0</text>
<text x="1768" y="697.5">44,500.0</text>
<text x="1768" y="738.2">44,400.0</text>
<text x="1768" y="776.5">100.0</text>
<text x="1768" y="820.1">0.0</text>
<text x="1768" y="864.5">−100.0</text>
</g>

<!-- time axis -->
<g font-size="12" text-anchor="middle">
<text x="58" y="888.5">12</text>
<text x="240.4" y="888.5">13</text>
<text x="422.8" y="888.5">16</text>
<text x="605.2" y="888.5">17</text>
<text x="787.6" y="888.5">18</text>
<text x="970" y="888.5">19</text>
<text x="1152.4" y="888.5">20</text>
<text x="1334.8" y="888.5">23</text>
<text x="1517.2" y="888.5">24</text>
<text x="1699.6" y="888.5">25</text>
</g>

<!-- lightning icon -->
<circle cx="1738.3" cy="747.7" r="8.3" fill="#fff" stroke="#9c27b0" stroke-width="1.6"/>
<path d="M1740.8 741.6 L1734.6 748.9 L1738.2 748.9 L1735.9 754 L1742 746.3 L1738.4 746.3 Z" fill="#9c27b0"/>

<!-- logo -->
<g fill="#131722">
<path d="M12 920h14v15h-7v-9h-7z"/>
<circle cx="30" cy="923.2" r="3.1"/>
<path d="M35 920h7l-6.5 15h-7.3z"/>
</g>
<text x="49" y="934.5" font-size="20" font-weight="bold" textLength="120" lengthAdjust="spacingAndGlyphs">TradingView</text>
</svg>
</body></html>
